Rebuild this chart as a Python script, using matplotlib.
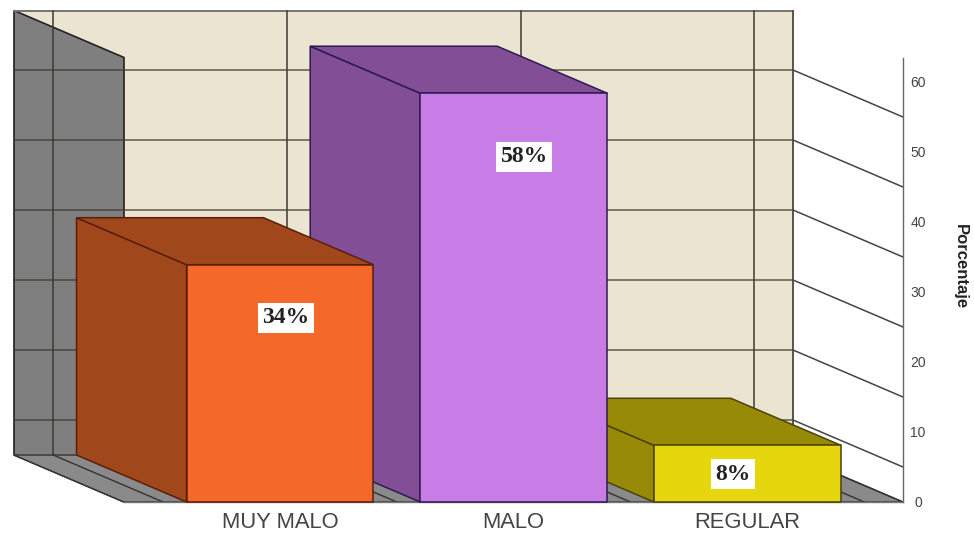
import matplotlib
matplotlib.use("Agg")
import matplotlib.pyplot as plt
from matplotlib.patches import Polygon

categories = ["MUY MALO", "MALO", "REGULAR"]
values = [33.9, 58.4, 8.1]
value_labels = ["34%", "58%", "8%"]
front_colors = ["#F4682A", "#C87DE6", "#E6D60E"]
side_colors = ["#A0481C", "#824F97", "#978A06"]
edge_colors = ["#5A1E08", "#2E1A50", "#4A4205"]
y_ticks = [0, 10, 20, 30, 40, 50, 60]
grid_values = [5, 15, 25, 35, 45, 55]
label_values = [26.3, 49.3, 4.0]
label_shift = [0.026, 0.045, -0.062]

Y_MAX = 63.5
BAR_W = 0.8
PX_X = 233.7
PX_Y = 7.0
DX = -110 / PX_X
DY = 47 / PX_Y
X0 = (124 - 280) / PX_X
X1 = (903 - 280) / PX_X
WALL = "#7F7F80"
BACK = "#EBE4D0"
LINE = "#3C3A30"

fig = plt.figure(figsize=(9.74, 5.34), dpi=100, facecolor="white")
ax = fig.add_axes([0, 0, 1, 1])
ax.set_xlim(-280 / PX_X, (974 - 280) / PX_X)
ax.set_ylim(-32 / PX_Y, 502 / PX_Y)
ax.axis("off")

# back wall, left wall and floor
ax.add_patch(Polygon([(X0 + DX, DY), (X1 + DX, DY), (X1 + DX, Y_MAX + DY), (X0 + DX, Y_MAX + DY)],
                     fc=BACK, ec="none", zorder=1))
ax.add_patch(Polygon([(X0 + DX, DY), (X0, 0), (X0, Y_MAX), (X0 + DX, Y_MAX + DY)],
                     fc=WALL, ec="#222222", lw=1.2, zorder=2))
ax.add_patch(Polygon([(X0 + DX, DY), (X1 + DX, DY), (X1, 0), (X0, 0)],
                     fc="#8A8A8B", ec="#333333", lw=1.0, zorder=2))

# horizontal grid: back wall + left wall, then the slanted run on the right
for g in grid_values:
    ax.plot([X0 + DX, X1 + DX], [g + DY, g + DY], color=LINE, lw=1.2, alpha=0.75, zorder=3)
    ax.plot([X1 + DX, X1], [g + DY, g], color="#444444", lw=1.1, zorder=3)
ax.plot([X0 + DX, X1 + DX], [Y_MAX + DY, Y_MAX + DY], color="#77756A", lw=1.4, zorder=3)

# vertical grid between categories
for b in [i - 0.5 for i in range(len(categories) + 1)]:
    ax.plot([b + DX, b + DX], [DY, Y_MAX + DY], color=LINE, lw=1.1, zorder=3)
    ax.plot([b + DX, b], [DY, 0], color="#333333", lw=1.0, zorder=3)
ax.plot([X1 + DX, X1 + DX], [DY, Y_MAX + DY], color="#4A4A3A", lw=1.3, zorder=3)
ax.plot([X1 + DX, X1], [DY, 0], color="#333333", lw=1.0, zorder=3)

# value axis and baseline
ax.plot([X1, X1], [0, Y_MAX], color="#666666", lw=1.0, zorder=3)
ax.plot([X0, X1], [0, 0], color="#777777", lw=1.0, zorder=3)

# bars, back to front from the right
for i in range(len(values) - 1, -1, -1):
    v = values[i]
    l, r = i - BAR_W / 2, i + BAR_W / 2
    z = 5 + (len(values) - i)
    ax.add_patch(Polygon([(l, 0), (l + DX, DY), (l + DX, v + DY), (l, v)],
                         fc=side_colors[i], ec=edge_colors[i], lw=1.1, zorder=z))
    ax.add_patch(Polygon([(l, v), (l + DX, v + DY), (r + DX, v + DY), (r, v)],
                         fc=side_colors[i], ec=edge_colors[i], lw=1.1, zorder=z))
    ax.bar(i, v, width=BAR_W, color=front_colors[i], edgecolor=edge_colors[i],
           linewidth=1.1, zorder=z + 0.1)
    ax.text(i + label_shift[i], label_values[i], value_labels[i], ha="center", va="center",
            family="Liberation Serif", weight="bold", fontsize=17, color="#222222", zorder=20,
            bbox=dict(fc="white", ec="none", pad=3))

# text
for i, c in enumerate(categories):
    ax.text(i, -2.9, c, ha="center", va="center", family="Liberation Sans",
            fontsize=15.8, color="#444444", zorder=20)
for t in y_ticks:
    ax.text(X1 + 15 / PX_X, t - 0.15, str(t), ha="center", va="center", family="Liberation Sans",
            fontsize=10, color="#444444", zorder=20)
ax.text(X1 + 57 / PX_X, 33.6, "Porcentaje", rotation=-90, ha="center", va="center",
        family="Liberation Sans", weight="bold", fontsize=12, color="#222222", zorder=20)

fig.savefig("out.png", dpi=100, facecolor="white")
